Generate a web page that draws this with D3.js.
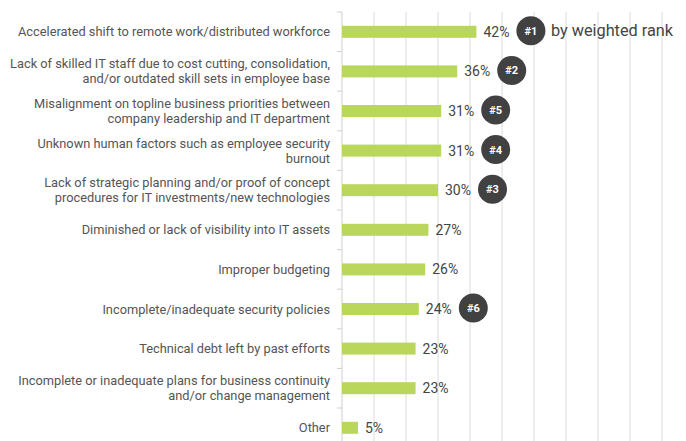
<!DOCTYPE html>
<meta charset="utf-8">
<style>
body { margin: 0; background: #fff; }
text { font-family: Roboto, "Noto Sans", sans-serif; }
</style>
<body>
<svg width="686" height="441"></svg>
</body>
<script src="https://d3js.org/d3.v7.min.js"></script>
<script>
// categories (label lines) top to bottom
const categories = [
    ["Accelerated shift to remote work/distributed workforce"],
    ["Lack of skilled IT staff due to cost cutting, consolidation,", "and/or outdated skill sets in employee base"],
    ["Misalignment on topline business priorities between", "company leadership and IT department"],
    ["Unknown human factors such as employee security", "burnout"],
    ["Lack of strategic planning and/or proof of concept", "procedures for IT investments/new technologies"],
    ["Diminished or lack of visibility into IT assets"],
    ["Improper budgeting"],
    ["Incomplete/inadequate security policies"],
    ["Technical debt left by past efforts"],
    ["Incomplete or inadequate plans for business continuity", "and/or change management"],
    ["Other"]
];
const values = [42, 36, 31, 31, 30, 27, 26, 24, 23, 23, 5];
const ranks = ["#1", "#2", "#5", "#4", "#3", null, null, "#6", null, null, null];
const gridTicks = [0, 10, 20, 30, 40, 50, 60, 70, 80, 90, 100];

const svg = d3.select("svg");
const mLeft = 342, mTop = 12;

const x = d3.scaleLinear().domain([0, 100]).range([mLeft, mLeft + 320]);
const y = d3.scaleBand().domain(d3.range(categories.length))
    .range([mTop, mTop + 39.6 * categories.length]);

// vertical gridlines
svg.append("g").selectAll("line")
    .data(gridTicks.slice(1))
    .enter().append("line")
    .attr("x1", d => x(d)).attr("x2", d => x(d))
    .attr("y1", mTop).attr("y2", 441)
    .attr("stroke", "#dcdcdc").attr("stroke-width", 1);

// left axis with small ticks at band boundaries
const ax = svg.append("g");
ax.append("line")
    .attr("x1", mLeft).attr("x2", mLeft)
    .attr("y1", mTop).attr("y2", 441)
    .attr("stroke", "#cfcfcf");
ax.selectAll("line.tk")
    .data(d3.range(categories.length + 1))
    .enter().append("line")
    .attr("class", "tk")
    .attr("x1", mLeft - 5).attr("x2", mLeft)
    .attr("y1", i => mTop + i * y.step()).attr("y2", i => mTop + i * y.step())
    .attr("stroke", "#cfcfcf");

// bars
const bh = 12;
svg.append("g").selectAll("rect")
    .data(values)
    .enter().append("rect")
    .attr("x", x(0))
    .attr("y", (d, i) => y(i) + y.bandwidth() / 2 - bh / 2)
    .attr("width", d => x(d) - x(0))
    .attr("height", bh)
    .attr("fill", "#b9d75a");

// category labels
const lab = svg.append("g").selectAll("text")
    .data(categories)
    .enter().append("text")
    .attr("text-anchor", "end")
    .attr("font-size", 12.8)
    .attr("fill", "#555");
lab.each(function (lines, i) {
    const cy = y(i) + y.bandwidth() / 2;
    const n = lines.length;
    d3.select(this).selectAll("tspan")
        .data(lines)
        .enter().append("tspan")
        .attr("x", 330)
        .attr("y", (l, j) => cy + (j - (n - 1) / 2) * 15 + 4.5)
        .text(l => l);
});

// value labels + rank badges
const vg = svg.append("g");
values.forEach((v, i) => {
    const cy = y(i) + y.bandwidth() / 2;
    const t = vg.append("text")
        .attr("x", x(v) + 7)
        .attr("y", cy + 5)
        .attr("font-size", 14)
        .attr("fill", "#444")
        .text(v + "%");
    if (ranks[i]) {
        const w = t.node().getComputedTextLength();
        const cx = x(v) + 7 + w + 7 + 14.5;
        vg.append("circle")
            .attr("cx", cx).attr("cy", cy - 1)
            .attr("r", 14.5)
            .attr("fill", "#414141");
        vg.append("text")
            .attr("x", cx).attr("y", cy + 3)
            .attr("text-anchor", "middle")
            .attr("font-size", 11)
            .attr("font-weight", "bold")
            .attr("fill", "#fff")
            .text(ranks[i]);
        if (i === 0) {
            vg.append("text")
                .attr("x", cx + 20)
                .attr("y", cy + 4.5)
                .attr("font-size", 16.3)
                .attr("fill", "#444")
                .text("by weighted rank");
        }
    }
});
</script>
